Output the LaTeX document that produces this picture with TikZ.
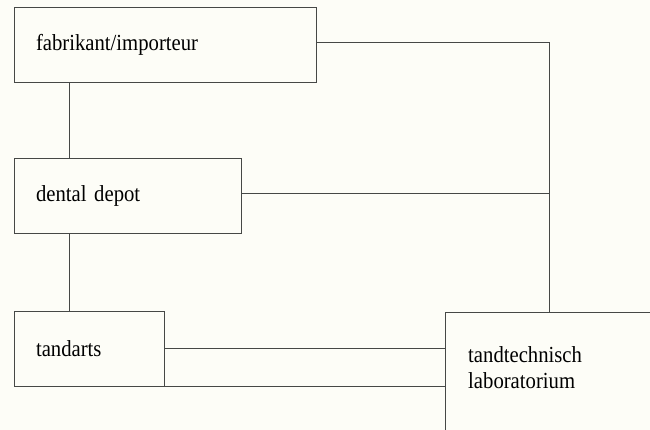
\documentclass[tikz,border=0pt]{standalone}
\usepackage{fontspec}
\setmainfont{Liberation Serif}[FakeStretch=0.9]
\usepackage{tikz}
\usetikzlibrary{calc}
\definecolor{paper}{RGB}{253,253,247}
\definecolor{ink}{RGB}{70,72,70}

\begin{document}
\begin{tikzpicture}[x=1pt, y=1pt,
  box/.style={draw=ink, line width=0.9pt, rectangle, inner xsep=22pt, inner ysep=0pt,
    minimum height=75pt, align=left, font=\fontsize{23}{26}\selectfont},
  wire/.style={ink, line width=0.9pt}]
\fill[paper] (0, 0) rectangle (650, 430);
\useasboundingbox (0, 0) rectangle (650, 430);

%draw boxes
\node [box, text width=258pt] (maker) at (165, 385.5) {fabrikant/importeur};
\node [box, text width=183pt] (depot) at (127.5, 234.5) {dental depot};
\node [box, text width=106pt] (dentist) at (89, 81.5) {tandarts};
\node [box, anchor=north west, minimum width=260pt, minimum height=160pt] (lab) at (445, 118) {};
\node [anchor=west, inner sep=0pt, align=left, font=\fontsize{23}{26}\selectfont] (labtext) at (468, 62) {tandtechnisch\\laboratorium};

%draw junctions on the right
\coordinate (j1) at (549, 388);
\coordinate (j2) at (549, 237);

%draw connections
\draw[wire] ([xshift=56pt]maker.south west) -- ([xshift=56pt]depot.north west);
\draw[wire] ([xshift=56pt]depot.south west) -- ([xshift=56pt]dentist.north west);
\draw[wire] (maker.east |- j1) -- (j1) -- (lab.north west -| j1);
\draw[wire] (depot.east |- j2) -- (j2);
\draw[wire] (dentist.east) -- (lab.north west |- dentist.east);
\draw[wire] (dentist.south east) -- (lab.north west |- dentist.south east);

\end{tikzpicture}
\end{document}
